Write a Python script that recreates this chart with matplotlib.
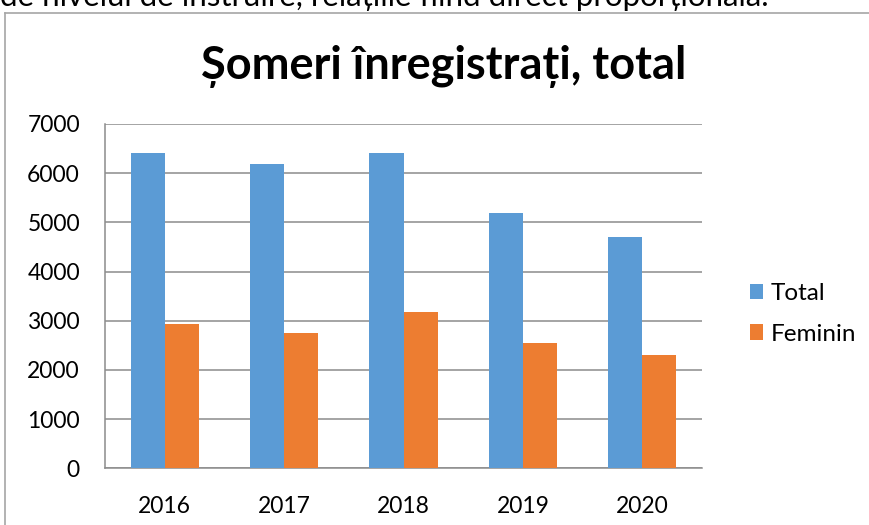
import matplotlib.pyplot as plt
import numpy as np
from matplotlib.lines import Line2D

years = ["2016", "2017", "2018", "2019", "2020"]
total = [6405, 6180, 6415, 5185, 4695]
feminin = [2925, 2760, 3175, 2555, 2315]
yticks = [0, 1000, 2000, 3000, 4000, 5000, 6000, 7000]

BLUE = "#5B9BD5"
ORANGE = "#ED7D31"
GRID = "#8C8C8C"
FONT = "Lato"

W, H = 870, 525
fig = plt.figure(figsize=(W / 100, H / 100), dpi=100)

# axes placed in pixel coords: left 105, right 702, top 124, bottom 468
ax = fig.add_axes([105 / W, 1 - 468.4 / H, (702 - 105) / W, (468.4 - 124) / H])

x = np.arange(len(years))
bw = 1 / 3.5
ax.bar(x - bw / 2, total, bw, color=BLUE, label="Total", zorder=3)
ax.bar(x + bw / 2, feminin, bw, color=ORANGE, label="Feminin", zorder=3)

ax.set_xlim(-0.5, len(years) - 0.5)
ax.set_ylim(0, 7000)
ax.set_yticks(yticks)
ax.set_xticks(x, years)
ax.yaxis.grid(True, color=GRID, lw=1.1, zorder=0)
ax.tick_params(length=0, labelsize=16.5)
ax.tick_params(axis="y", pad=18)
ax.tick_params(axis="x", pad=20)
for lab in ax.get_xticklabels() + ax.get_yticklabels():
    lab.set_fontfamily(FONT)
for s in ["top", "right"]:
    ax.spines[s].set_visible(False)
for s in ["left", "bottom"]:
    ax.spines[s].set_color(GRID)
    ax.spines[s].set_linewidth(1.1)

leg = fig.legend(loc="center left", bbox_to_anchor=(728 / W, 1 - 314 / H),
                 frameon=False, prop={"family": FONT, "size": 17.5},
                 handlelength=0.55, handleheight=0.6, handletextpad=0.3,
                 labelspacing=0.8)

fig.text(444 / W, 1 - 67 / H, "Șomeri înregistrați, total", ha="center",
         va="center", fontsize=32.5, fontweight="bold", family=FONT)

# cropped line of body text above the chart frame
fig.text(0 / W, 1 - 6 / H, "de nivelul de instruire, relațiile fiind direct proporționala.",
         ha="left", va="baseline", fontsize=22.5, family=FONT)

# chart frame (top and left edges visible)
fig.add_artist(Line2D([5 / W, 1], [1 - 12.5 / H] * 2, color="#A6A6A6", lw=1.2,
                      transform=fig.transFigure))
fig.add_artist(Line2D([5 / W] * 2, [0, 1 - 12.5 / H], color="#A6A6A6", lw=1.2,
                      transform=fig.transFigure))

fig.savefig("out.png", dpi=100)
plt.close()
